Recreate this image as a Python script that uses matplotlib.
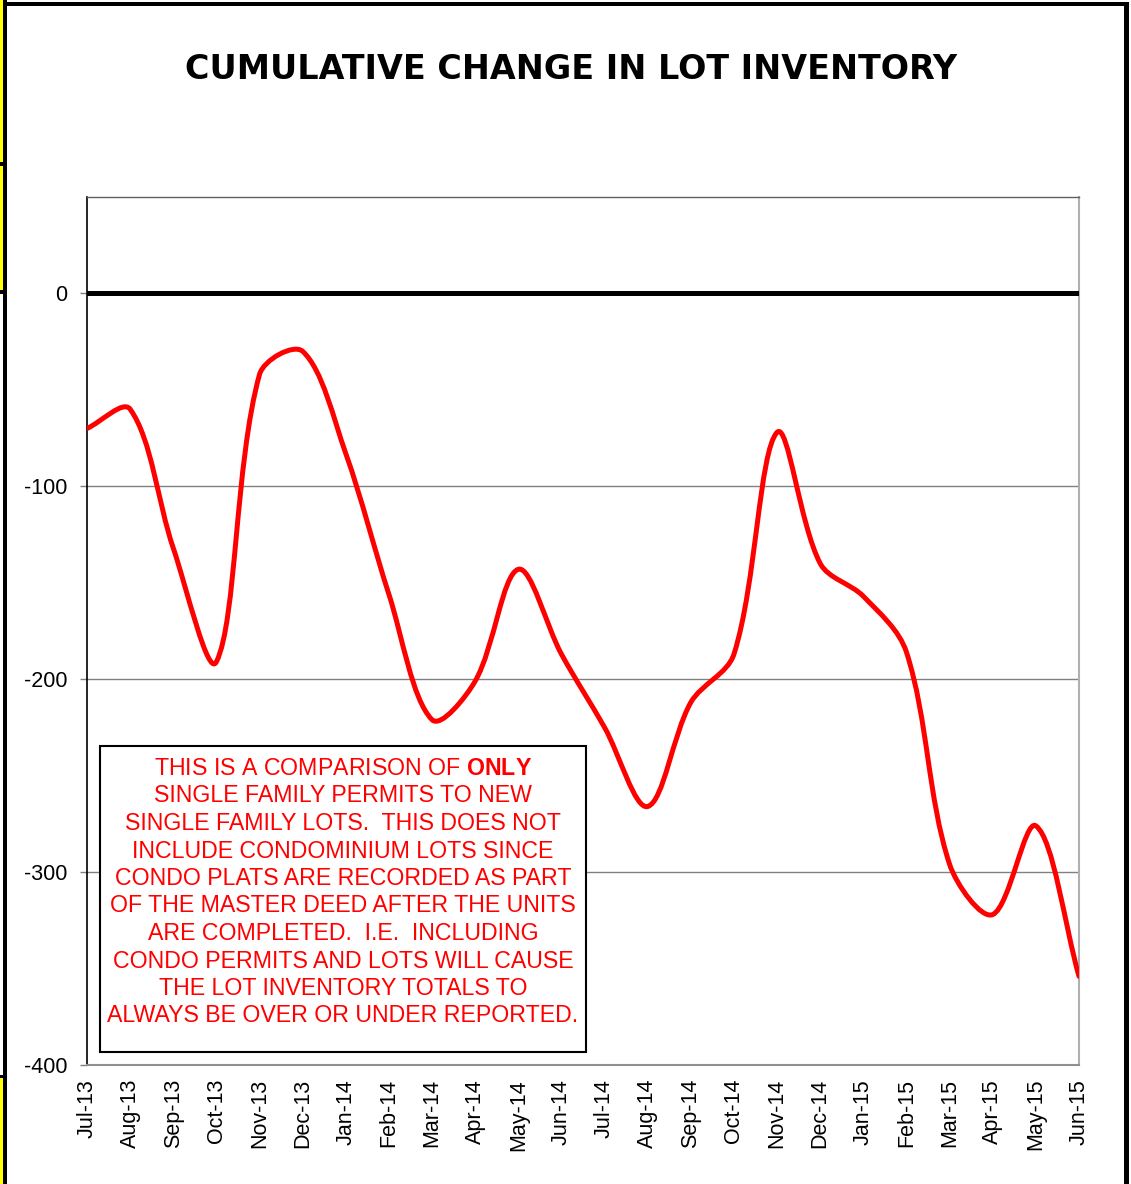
import matplotlib
matplotlib.use("Agg")
import matplotlib.pyplot as plt
import numpy as np
from matplotlib.path import Path
from matplotlib.patches import PathPatch, Rectangle

plt.rcParams['font.family'] = ['Liberation Sans', 'DejaVu Sans']
plt.rcParams['mathtext.fontset'] = 'custom'
plt.rcParams['mathtext.rm'] = 'Liberation Sans'
plt.rcParams['mathtext.bf'] = 'Liberation Sans:bold'

months = ["Jul-13", "Aug-13", "Sep-13", "Oct-13", "Nov-13", "Dec-13",
          "Jan-14", "Feb-14", "Mar-14", "Apr-14", "May-14", "Jun-14",
          "Jul-14", "Aug-14", "Sep-14", "Oct-14", "Nov-14", "Dec-14",
          "Jan-15", "Feb-15", "Mar-15", "Apr-15", "May-15", "Jun-15"]
cumulative_change = [-70, -60, -132, -191, -42, -30,
                     -83, -156, -221, -201, -143, -187,
                     -225, -266, -212, -187, -72, -140,
                     -157, -186, -296, -322, -276, -354]
y_ticks = [0, -100, -200, -300, -400]
title = "CUMULATIVE CHANGE IN LOT INVENTORY"
note_lines = [
    r"THIS IS A COMPARISON OF $\mathbf{ONLY}$",
    "SINGLE FAMILY PERMITS TO NEW",
    "SINGLE FAMILY LOTS.  THIS DOES NOT",
    "INCLUDE CONDOMINIUM LOTS SINCE",
    "CONDO PLATS ARE RECORDED AS PART",
    "OF THE MASTER DEED AFTER THE UNITS",
    "ARE COMPLETED.  I.E.  INCLUDING",
    "CONDO PERMITS AND LOTS WILL CAUSE",
    "THE LOT INVENTORY TOTALS TO",
    "ALWAYS BE OVER OR UNDER REPORTED.",
]

W, H = 1131, 1184
fig = plt.figure(figsize=(W / 100, H / 100), dpi=100)

def fx(px):
    return px / W

def fy(py):
    return 1 - py / H

ax = fig.add_axes([fx(87), fy(1065), fx(1079) - fx(87), fy(197) - fy(1065)])
ax.set_xlim(0, len(months) - 1)
ax.set_ylim(-400, 50)

# grid
for v in [-100, -200, -300]:
    ax.axhline(v, color='#808080', lw=1.0, zorder=1)
ax.axhline(0, color='black', lw=3.6, zorder=3)

# Excel-like smoothed line: Bezier through the data points, control arms
# scaled by neighbouring segment lengths (measured in display space)
x = np.arange(len(cumulative_change), dtype=float)
y = np.array(cumulative_change, dtype=float)
n = len(x)
sx = 992.0 / (n - 1)      # pixels per month
sy = 868.0 / 450.0        # pixels per unit
P = np.column_stack([x * sx, y * sy])

def dist(a, b):
    return float(np.hypot(*(P[a] - P[b])))

verts_px = [tuple(P[0])]
codes = [Path.MOVETO]
for i in range(n - 1):
    im = max(i - 1, 0)
    ip2 = min(i + 2, n - 1)
    d12 = dist(i, i + 1)
    d01 = dist(im, i)
    d23 = dist(i + 1, ip2)
    f1 = d12 / (d01 + d12) / 3.0 if (d01 + d12) > 0 else 0
    f2 = d12 / (d12 + d23) / 3.0 if (d12 + d23) > 0 else 0
    c1 = P[i] + (P[i + 1] - P[im]) * f1
    c2 = P[i + 1] - (P[ip2] - P[i]) * f2
    verts_px += [tuple(c1), tuple(c2), tuple(P[i + 1])]
    codes += [Path.CURVE4] * 3
verts = [(vx / sx, vy / sy) for vx, vy in verts_px]
patch = PathPatch(Path(verts, codes), facecolor='none', edgecolor='#ff0000',
                  lw=3.6, zorder=4, capstyle='round', joinstyle='round')
ax.add_patch(patch)

# axes styling
ax.spines['left'].set_color('black')
ax.spines['left'].set_linewidth(1.2)
ax.spines['top'].set_color('#606060')
ax.spines['top'].set_linewidth(1.0)
ax.spines['right'].set_color('#b0b0b0')
ax.spines['right'].set_linewidth(1.5)
ax.spines['bottom'].set_color('#909090')
ax.spines['bottom'].set_linewidth(1.5)

ax.set_yticks(y_ticks)
ax.set_yticklabels([str(v) for v in y_ticks], fontsize=15.5)
ax.tick_params(axis='y', length=5, width=1, color='#808080', pad=9)
ax.set_xticks(x)
ax.set_xticklabels(months, rotation=90, fontsize=15.5, va='top', ha='center')
ax.tick_params(axis='x', length=0, pad=10)

# title
fig.text(fx(571), fy(79), title, fontsize=24, fontweight='bold',
         family=['DejaVu Sans'], ha='center', va='baseline')

# note box
box = Rectangle((fx(100), fy(1052)), fx(586) - fx(100), fy(746) - fy(1052),
                transform=fig.transFigure, facecolor='white',
                edgecolor='black', lw=1.5, zorder=10)
fig.patches.append(box)
base0 = 775.0
step = 27.5
for k, line in enumerate(note_lines):
    fig.text(fx(343), fy(base0 + k * step), line, color='#ff0000',
             fontsize=16.7, ha='center', va='baseline', zorder=11)

# outer frame
yellow = '#ffff00'
frame = [
    Rectangle((fx(0), fy(162)), fx(3), fy(0) - fy(162), facecolor=yellow, edgecolor='none'),
    Rectangle((fx(0), fy(290)), fx(3), fy(166) - fy(290), facecolor=yellow, edgecolor='none'),
    Rectangle((fx(0), fy(H)), fx(3), fy(1077) - fy(H), facecolor=yellow, edgecolor='none'),
    Rectangle((fx(0), fy(166)), fx(6), fy(162) - fy(166), facecolor='black', edgecolor='none'),
    Rectangle((fx(0), fy(294)), fx(6), fy(290) - fy(294), facecolor='black', edgecolor='none'),
    Rectangle((fx(0), fy(1078)), fx(6), fy(1075) - fy(1078), facecolor='black', edgecolor='none'),
    Rectangle((fx(3), fy(H)), fx(3.5), fy(0) - fy(H), facecolor='black', edgecolor='none'),
    Rectangle((fx(3), fy(6)), fx(1129) - fx(3), fy(1.5) - fy(6), facecolor='black', edgecolor='none'),
    Rectangle((fx(1124), fy(H)), fx(5), fy(1.5) - fy(H), facecolor='black', edgecolor='none'),
]
for r in frame:
    r.set_transform(fig.transFigure)
    fig.patches.append(r)

fig.savefig("out.png", dpi=100)
